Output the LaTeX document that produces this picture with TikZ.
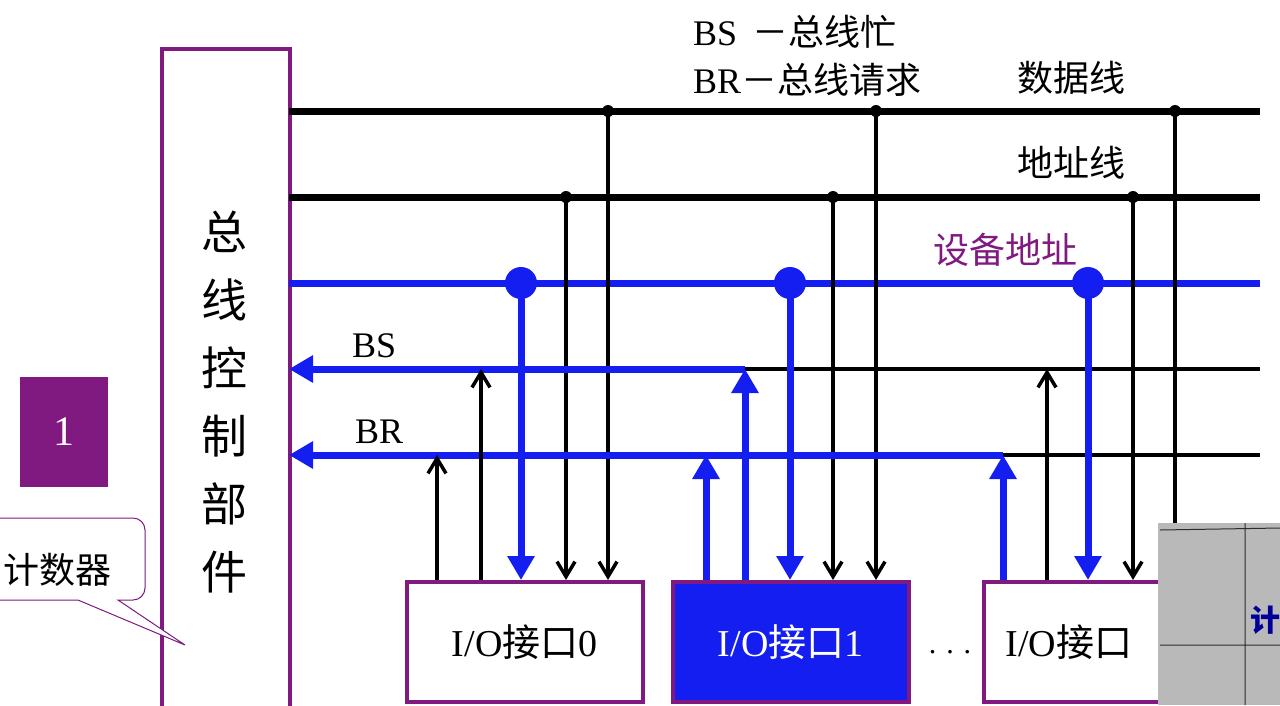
\documentclass[tikz,border=0pt]{standalone}
\usepackage{fontspec}
\setmainfont{Liberation Serif}
\newfontfamily\cjk{Noto Sans CJK SC}
\usetikzlibrary{arrows.meta}
\definecolor{pur}{RGB}{128,25,128}
\definecolor{bl}{RGB}{20,30,240}
\begin{document}
\begin{tikzpicture}[x=1pt,y=-1pt,
  blk/.style={line width=4pt,black},
  bus/.style={line width=7pt,black},
  blu/.style={line width=7pt,bl},
  barr/.style={line width=4pt,-{Straight Barb[length=15pt,width=18pt,line width=3.5pt]}},
  uarr/.style={line width=7pt,bl,-{Triangle[length=24pt,width=26pt]}},
  tap/.style={circle,fill=black,inner sep=0pt,minimum size=12pt},
  btap/.style={circle,fill=bl,inner sep=0pt,minimum size=32pt},
  lab/.style={font=\fontsize{36}{38}\selectfont,anchor=west,inner sep=0pt},
  iob/.style={draw=pur,line width=3.5pt,minimum width=236pt,minimum height=120pt,anchor=north west,font=\fontsize{38}{40}\selectfont,inner sep=0pt}]
\useasboundingbox (0,0) rectangle (1280,705);
% control unit
\node (ctl) [draw=pur,line width=4pt,minimum width=128pt,minimum height=700pt,anchor=north west,inner sep=0pt] at (160,47) {};
\node[font=\cjk\fontsize{46}{68}\selectfont,align=center] at (224,402) {总\\线\\控\\制\\部\\件};
% buses
\draw[bus] (289,111) coordinate(d0) -- (1260,111) coordinate(d1);
\draw[bus] (289,197) coordinate(a0) -- (1260,197) coordinate(a1);
\draw[blu] (289,283) coordinate(s0) -- (1260,283) coordinate(s1);
\draw[blk] (745,369) coordinate(bsm) -- (1260,369) coordinate(bse);
\draw[blk] (1003,455) coordinate(brm) -- (1260,455) coordinate(bre);
% boxes
\node (io0) [iob,fill=white] at (405,580) {I/O{\cjk 接口}0};
\node (io1) [iob,fill=bl,text=white] at (671,580) {I/O{\cjk 接口}1};
\node (io2) [iob,fill=white,minimum width=200pt] at (982,580) {\hspace*{-30pt}I/O{\cjk 接口}};
% taps
\foreach \x in {608,876,1175}{\node[tap] at (\x,111){};}
\foreach \x in {566,833,1133}{\node[tap] at (\x,197){};}
\foreach \x in {608,876}{\draw[barr] (\x,111) -- (\x,580);}
\foreach \x in {566,833,1133}{\draw[barr] (\x,197) -- (\x,580);}
\draw[blk] (1175,111) -- (1175,580);
\foreach \x in {521,790,1088}{\draw[uarr] (\x,283) -- (\x,580);}
\foreach \x in {521,790,1088}{\node[btap] at (\x,283){};}
% BS / BR blue
\draw[uarr] (bsm) -- (289,369);
\draw[uarr] (brm) -- (289,455);
\draw[barr] (481,580) -- (481,369);
\draw[barr] (437,580) -- (437,455);
\draw[barr] (1047,580) -- (1047,369);
\draw[uarr] (706,580) -- (706,455);
\draw[uarr] (745,580) -- (745,369);
\draw[uarr] (1003,580) -- (1003,455);
% labels
\node[lab] at (693,32) {BS \,{\cjk －总线忙}};
\node[lab] at (693,80) {BR{\cjk －总线请求}};
\node[lab] at (1017,78) {\cjk 数据线};
\node[lab] at (1017,163) {\cjk 地址线};
\node[lab,text=pur] at (933,250) {\cjk 设备地址};
\node[lab] at (352,346) {BS};
\node[lab] at (355,432) {BR};
\node[font=\fontsize{30}{30}\selectfont] at (950,652) {. . .};
% number square
\node[fill=pur,minimum width=88pt,minimum height=110pt,text=white,font=\fontsize{42}{42}\selectfont,inner sep=0pt] at (64,432) {1};
% callout
\draw[pur,line width=1pt,fill=white] (-10,518) -- (133,518) to[out=0,in=90] (145,530) -- (145,588) to[out=-90,in=0] (133,600) -- (118,600) -- (185,645) -- (78,600) -- (-10,600);
\node[lab] at (3,570) {\cjk 计数器};
% photo overlay
\fill[gray!55] (1158,523) rectangle (1280,705);
\draw[gray!35!black,line width=1pt] (1160,530) -- (1280,528) (1245,523) -- (1245,705) (1160,645) -- (1280,645);
\node[font=\cjk\bfseries\fontsize{30}{30}\selectfont,text=blue!60!black] at (1265,620) {计};
\end{tikzpicture}
\end{document}
